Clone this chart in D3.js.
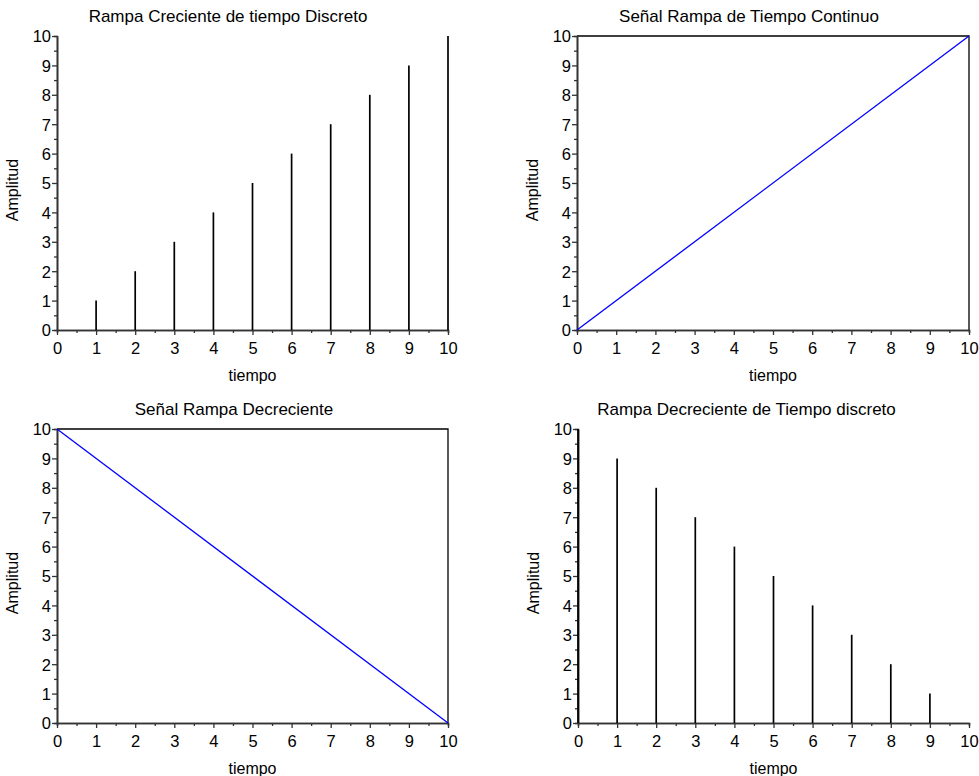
<!DOCTYPE html>
<html><head><meta charset="utf-8">
<script src="https://cdn.jsdelivr.net/npm/d3@7"></script>
<style>body{margin:0;background:#fff}svg{display:block}text{font-family:"Liberation Sans",Arial,sans-serif;fill:#000}</style>
</head><body><svg id="c" width="979" height="776"></svg>
<script>
const timeTicks = [0,1,2,3,4,5,6,7,8,9,10];
const ampTicks = [0,1,2,3,4,5,6,7,8,9,10];
const discreteN = [0,1,2,3,4,5,6,7,8,9,10];
const rampUpValues = [0,1,2,3,4,5,6,7,8,9,10];
const rampDownValues = [10,9,8,7,6,5,4,3,2,1,0];
const contUpT = [0,10];
const contUpV = [0,10];
const contDownT = [0,10];
const contDownV = [10,0];
const titles = ["Rampa Creciente de tiempo Discreto","Señal Rampa de Tiempo Continuo","Señal Rampa Decreciente","Rampa Decreciente de Tiempo discreto"];
const xLabel = "tiempo", yLabel = "Amplitud";

const svg = d3.select("#c");
const panels = [
  {x0:57, x1:448, y0:330, y1:36, titleY:22, titleX:228, type:"stem", vals:rampUpValues, box:false},
  {x0:577, x1:969, y0:330, y1:36, titleY:22, titleX:749, type:"line", t:contUpT, v:contUpV, box:true},
  {x0:57, x1:448, y0:723, y1:429, titleY:415, titleX:234, type:"line", t:contDownT, v:contDownV, box:true},
  {x0:578, x1:969, y0:723, y1:429, titleY:415, titleX:746.5, type:"stem", vals:rampDownValues, box:false}
];
const minor = d3.range(0.5,10,1);
panels.forEach((p,i)=>{
  const x = d3.scaleLinear().domain([0,10]).range([p.x0,p.x1]);
  const y = d3.scaleLinear().domain([0,10]).range([p.y0,p.y1]);
  const g = svg.append("g");
  if (p.box) {
    g.append("path").attr("d",`M${p.x0},${p.y1}H${p.x1}V${p.y0}`).attr("fill","none").attr("stroke","#000").attr("stroke-width",1.3);
  }
  const xm = g.append("g").attr("transform",`translate(0,${p.y0})`).call(d3.axisBottom(x).tickValues(minor).tickSize(3).tickFormat(""));
  const ym = g.append("g").attr("transform",`translate(${p.x0},0)`).call(d3.axisLeft(y).tickValues(minor).tickSize(3).tickFormat(""));
  const xa = g.append("g").attr("transform",`translate(0,${p.y0})`).call(d3.axisBottom(x).tickValues(timeTicks).tickSize(5).tickSizeOuter(0).tickPadding(3).tickFormat(d3.format("d")));
  const ya = g.append("g").attr("transform",`translate(${p.x0},0)`).call(d3.axisLeft(y).tickValues(ampTicks).tickSize(5).tickSizeOuter(0).tickPadding(1).tickFormat(d3.format("d")));
  [xm,ym,xa,ya].forEach(a=>{
    a.selectAll("path.domain").attr("stroke","#333").attr("stroke-width",1.6);
    a.selectAll("line").attr("stroke","#333").attr("stroke-width",1.3);
    a.selectAll("text").attr("font-size",16.5).attr("font-family","'Liberation Sans',Arial,sans-serif").attr("fill","#000");
  });
  xa.selectAll("text").attr("dy","0.95em");
  ya.selectAll("text").attr("dy","0.36em");
  if (p.type==="stem") {
    g.selectAll("line.stem").data(discreteN).join("line").attr("class","stem")
      .attr("x1",d=>x(d)).attr("x2",d=>x(d))
      .attr("y1",y(0)).attr("y2",(d,k)=>y(p.vals[k]))
      .attr("stroke","#000").attr("stroke-width",1.7);
  } else {
    const line = d3.line().x(d=>x(d[0])).y(d=>y(d[1]));
    g.append("path").attr("d",line(p.t.map((t,k)=>[t,p.v[k]]))).attr("fill","none").attr("stroke","#0000ff").attr("stroke-width",1.3);
  }
  const cx = (p.x0+p.x1)/2;
  g.append("text").attr("x",p.titleX).attr("y",p.titleY).attr("text-anchor","middle").attr("font-size",17).text(titles[i]);
  g.append("text").attr("x",cx).attr("y",p.y0+51).attr("text-anchor","middle").attr("font-size",16).text(xLabel);
  g.append("text").attr("transform",`translate(${p.x0-39},${(p.y0+p.y1)/2+7}) rotate(-90)`).attr("text-anchor","middle").attr("font-size",16).text(yLabel);
});
</script></body></html>
